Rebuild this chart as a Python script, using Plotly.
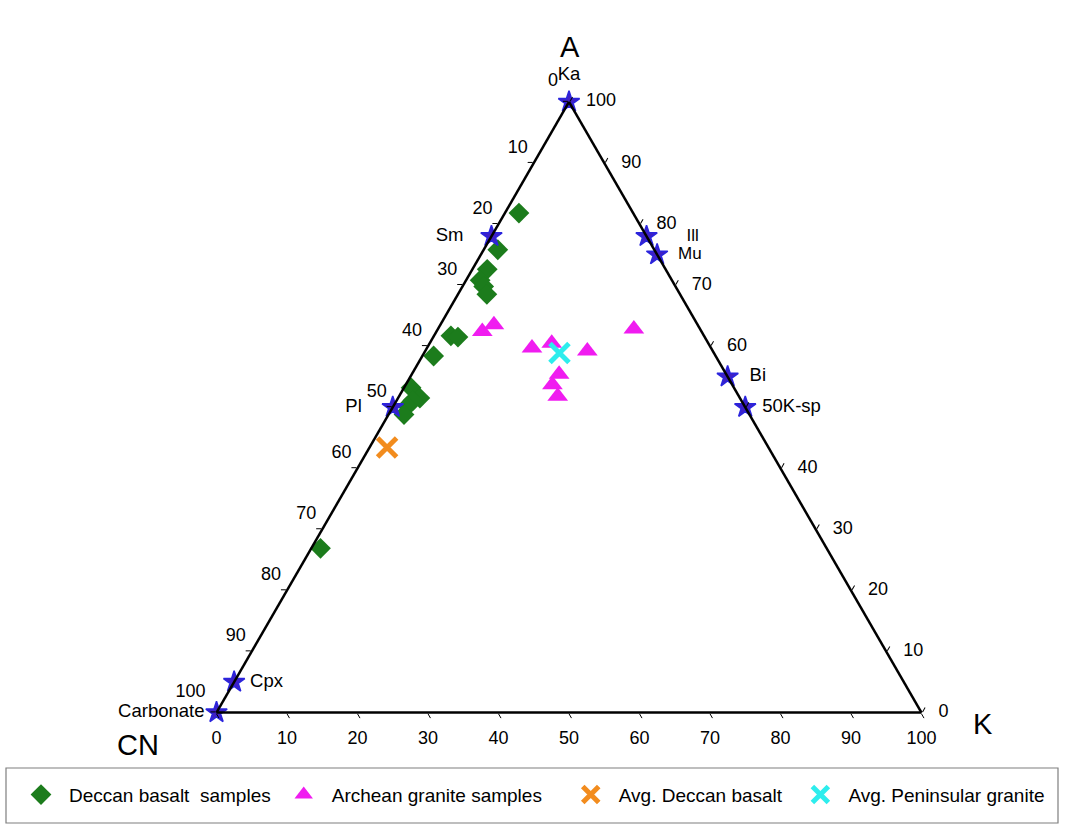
import plotly.graph_objects as go

W, H = 1078, 824
FONT = "Liberation Sans, Arial, sans-serif"

# Graduations shown along each edge (percent)
tick_vals = list(range(0, 101, 10))
# The right edge skips 50, where the 50K-sp label sits
a_edge_vals = [t for t in tick_vals if t != 50]

# Reference mineral compositions (A, CN, K in percent)
mineral_names = ["Ka", "Sm", "Ill", "Mu", "Bi", "50K-sp", "Pl", "Cpx", "Carbonate"]
mineral_A = [100, 78, 78, 75, 55, 50, 50, 5, 0]
mineral_CN = [0, 22, 0, 0, 0, 0, 50, 95, 100]
mineral_K = [0, 0, 22, 25, 45, 50, 0, 0, 0]

# Deccan basalt samples
basalt_A = [81.8, 75.8, 72.6, 70.8, 69.8, 68.5, 61.7, 61.5, 58.4, 53.2, 51.5, 51.1, 50.2, 48.8, 26.9]
basalt_CN = [16.2, 22.2, 25.3, 27.2, 27.2, 27.4, 35.9, 35.0, 40.0, 45.8, 45.4, 46.6, 47.8, 49.0, 71.8]
basalt_K = [2.0, 2.0, 2.1, 2.0, 3.0, 4.1, 2.4, 3.5, 1.6, 1.0, 3.1, 2.3, 2.0, 2.2, 1.3]

# Archean granite samples
granite_A = [62.4, 63.5, 59.7, 60.5, 59.2, 62.8, 55.4, 53.7, 51.8]
granite_CN = [31.1, 28.9, 25.4, 22.2, 17.8, 9.4, 23.7, 25.5, 25.7]
granite_K = [6.5, 7.6, 14.9, 17.3, 23.0, 27.8, 20.9, 20.8, 22.5]

# Averages
avg_basalt_A, avg_basalt_CN, avg_basalt_K = [43.4], [54.1], [2.5]
avg_granite_A, avg_granite_CN, avg_granite_K = [58.9], [21.9], [19.2]

# Where each mineral label sits relative to its star: (textposition, offset px, font px)
mineral_label_style = {
    "Ka": ("top center", 17, 18.5),
    "Sm": ("middle left", 28, 18.5),
    "Ill": ("middle right", 40, 17),
    "Mu": ("middle right", 21, 17),
    "Bi": ("middle right", 22, 18.5),
    "50K-sp": ("middle right", 17, 18.5),
    "Pl": ("middle left", 31, 18.5),
    "Cpx": ("middle right", 16, 18.5),
    "Carbonate": ("middle left", 12, 18.5),
}


def pad_size(offset):
    # plotly offsets point text by (marker radius / 0.8 + 1)
    return max(1.6 * (offset - 1), 0.5)


def text_layer(a, b, c, text, position, offset, size):
    if isinstance(offset, (int, float)):
        sizes = pad_size(offset)
    else:
        sizes = [pad_size(o) for o in offset]
    return go.Scatterternary(
        a=a, b=b, c=c, text=text, mode="markers+text", textposition=position,
        marker=dict(size=sizes, opacity=0, color="white"),
        textfont=dict(family=FONT, size=size, color="black"),
        cliponaxis=False, hoverinfo="skip", showlegend=False,
    )


fig = go.Figure()

fig.add_trace(go.Scatterternary(
    a=basalt_A, b=basalt_CN, c=basalt_K, mode="markers",
    name="Deccan basalt\u00a0 samples",
    marker=dict(symbol="diamond", size=16, color="#1c7c1c"),
    cliponaxis=False,
))
fig.add_trace(go.Scatterternary(
    a=granite_A, b=granite_CN, c=granite_K, mode="markers",
    name="Archean granite samples\u00a0\u00a0\u00a0",
    marker=dict(symbol="triangle-up", size=18, color="#f01cf0"),
    cliponaxis=False,
))
fig.add_trace(go.Scatterternary(
    a=avg_basalt_A, b=avg_basalt_CN, c=avg_basalt_K, mode="markers",
    name="Avg. Deccan basalt\u00a0",
    marker=dict(symbol="x-thin", size=19, color="#f28c1e",
                line=dict(color="#f28c1e", width=5)),
    cliponaxis=False,
))
fig.add_trace(go.Scatterternary(
    a=avg_granite_A, b=avg_granite_CN, c=avg_granite_K, mode="markers",
    name="Avg. Peninsular granite",
    marker=dict(symbol="x-thin", size=19, color="#2deded",
                line=dict(color="#2deded", width=5)),
    cliponaxis=False,
))

# Mineral end-members
fig.add_trace(go.Scatterternary(
    a=mineral_A, b=mineral_CN, c=mineral_K, mode="markers",
    marker=dict(symbol="star", size=16, color="#3f20c6",
                line=dict(color="#2a24dd", width=1.5)),
    cliponaxis=False, showlegend=False, hoverinfo="text", text=mineral_names,
))
fig.add_trace(go.Scatterternary(
    a=mineral_A, b=mineral_CN, c=mineral_K, text=mineral_names,
    mode="markers+text",
    textposition=[mineral_label_style[n][0] for n in mineral_names],
    marker=dict(size=[pad_size(mineral_label_style[n][1]) for n in mineral_names],
                opacity=0, color="white"),
    textfont=dict(family=FONT, color="black",
                  size=[mineral_label_style[n][2] for n in mineral_names]),
    cliponaxis=False, hoverinfo="skip", showlegend=False,
))

# Edge graduations: CN on the left edge, K along the base, A on the right edge
# (the corner labels on the left edge stand a little further out, clear of Ka / Carbonate)
cn_offsets = [11 if t in (0, 100) else 6 for t in tick_vals]
fig.add_trace(text_layer(
    [100 - t for t in tick_vals], tick_vals, [0] * len(tick_vals),
    [str(t) for t in tick_vals], "top left", cn_offsets, 18,
))
fig.add_trace(text_layer(
    [0] * len(tick_vals), [100 - t for t in tick_vals], tick_vals,
    [str(t) for t in tick_vals], "bottom center", 18, 18,
))
fig.add_trace(text_layer(
    a_edge_vals, [0] * len(a_edge_vals), [100 - t for t in a_edge_vals],
    [str(t) for t in a_edge_vals], "middle right", 17, 18,
))

axis_style = dict(
    tickmode="array", tickvals=tick_vals, ticks="outside", ticklen=5,
    tickwidth=1.2, tickcolor="black", showticklabels=False, showgrid=False,
    showline=True, linecolor="black", linewidth=2.5, min=0, title=dict(text=""),
)

title_font = dict(family=FONT, size=29, color="black")

fig.update_layout(
    width=W, height=H, autosize=False,
    margin=dict(l=0, r=0, t=0, b=0),
    paper_bgcolor="white", plot_bgcolor="white",
    font=dict(family=FONT, size=18, color="black"),
    ternary=dict(
        sum=100,
        domain=dict(x=[0.20083, 0.85482], y=[0.1350, 0.8765]),
        bgcolor="white",
        aaxis=axis_style, baxis=axis_style, caxis=axis_style,
    ),
    showlegend=True,
    legend=dict(
        orientation="h", x=13 / W, xanchor="left", y=0.0355, yanchor="middle",
        font=dict(family=FONT, size=19, color="black"),
        bgcolor="rgba(0,0,0,0)", borderwidth=0, itemsizing="trace",
        itemwidth=46,
    ),
    shapes=[dict(
        type="rect", xref="paper", yref="paper",
        x0=6 / W, x1=1058 / W, y0=1 / H, y1=(H - 768) / H,
        line=dict(color="#7f7f7f", width=1.2), fillcolor="rgba(0,0,0,0)",
    )],
    annotations=[
        dict(text="A", x=570 / W, y=1 - 47 / H, xref="paper", yref="paper",
             xanchor="center", yanchor="middle", showarrow=False, font=title_font),
        dict(text="CN", x=138 / W, y=1 - 745 / H, xref="paper", yref="paper",
             xanchor="center", yanchor="middle", showarrow=False, font=title_font),
        dict(text="K", x=983 / W, y=1 - 724 / H, xref="paper", yref="paper",
             xanchor="center", yanchor="middle", showarrow=False, font=title_font),
    ],
)

fig.write_html("out.html")
